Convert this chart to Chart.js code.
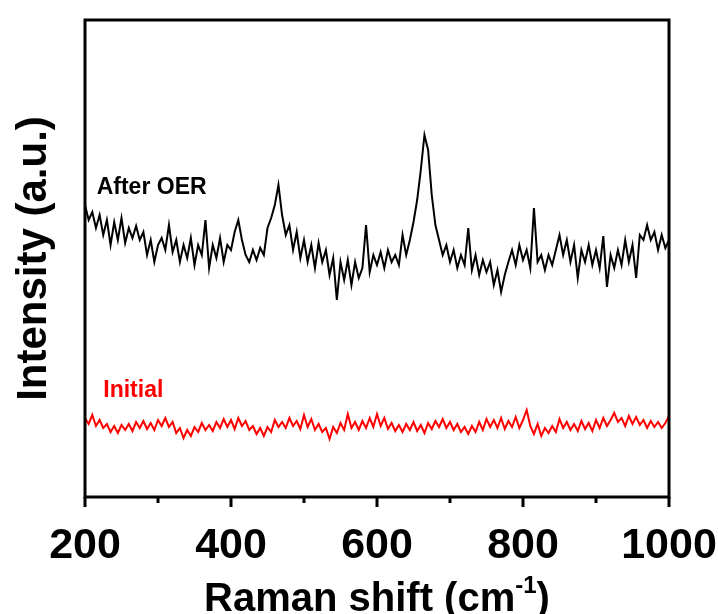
<!DOCTYPE html>
<html>
<head>
<meta charset="utf-8">
<script src="https://cdn.jsdelivr.net/npm/chart.js@4.4.1/dist/chart.umd.min.js"></script>
<style>
  html, body { margin: 0; padding: 0; background: #fff; }
  #wrap { width: 718px; height: 614px; position: relative; }
</style>
</head>
<body>
<div id="wrap"><canvas id="ramanChart"></canvas></div>
<script>
// Raman shift grid (cm-1), 5 cm-1 steps
const ramanShift = [];
for (let x = 200; x <= 1000; x += 5) ramanShift.push(x);

// Intensity (arbitrary units)
const afterOER = [
    292, 277, 285, 269, 282, 262, 277, 252, 275, 257,
    279, 254, 269, 259, 271, 257, 265, 242, 257, 235,
    252, 259, 247, 272, 245, 257, 235, 252, 239, 259,
    232, 252, 242, 277, 229, 252, 239, 259, 235, 252,
    247, 265, 277, 257, 242, 235, 247, 237, 249, 242,
    269, 279, 292, 312, 282, 262, 272, 247, 265, 239,
    257, 235, 252, 229, 254, 235, 247, 222, 239, 197,
    235, 217, 237, 212, 235, 219, 229, 272, 225, 242,
    232, 245, 229, 247, 235, 242, 232, 262, 242, 257,
    275, 297, 327, 362, 347, 302, 272, 257, 242, 252,
    235, 247, 229, 242, 232, 269, 227, 242, 222, 237,
    225, 235, 212, 227, 205, 222, 235, 247, 232, 252,
    237, 247, 229, 289, 235, 242, 227, 242, 232, 247,
    262, 242, 257, 235, 252, 219, 247, 235, 252, 232,
    247, 229, 261, 210, 242, 229, 247, 232, 257, 235,
    252, 219, 262, 257, 272, 257, 265, 247, 262, 249,
    257
];

const initial = [
    79, 73, 82, 71, 77, 69, 73, 65, 71, 64,
    72, 67, 73, 66, 75, 69, 76, 68, 74, 67,
    77, 71, 79, 70, 75, 64, 69, 59, 67, 61,
    70, 65, 74, 67, 72, 66, 75, 69, 78, 70,
    77, 68, 79, 71, 76, 67, 71, 63, 69, 61,
    70, 65, 77, 70, 75, 69, 79, 71, 76, 68,
    82, 70, 78, 67, 73, 65, 69, 58, 70, 64,
    74, 67, 83, 69, 75, 67, 76, 69, 79, 70,
    83, 71, 79, 68, 74, 66, 72, 65, 73, 67,
    75, 66, 72, 64, 74, 68, 76, 70, 78, 69,
    75, 67, 73, 65, 70, 63, 71, 65, 75, 67,
    78, 70, 77, 69, 79, 68, 76, 70, 80, 69,
    77, 87, 71, 63, 73, 61, 69, 64, 71, 65,
    78, 69, 75, 67, 73, 66, 76, 68, 74, 66,
    77, 69, 79, 71, 77, 84, 75, 79, 71, 81,
    73, 80, 72, 77, 69, 76, 70, 75, 69, 74,
    81
];

const majorTicks = [200, 400, 600, 800, 1000];
const minorTicks = [300, 500, 700, 900];
const seriesLabels = ['After OER', 'Initial'];

const FONT = "'Liberation Sans', Arial, sans-serif";

function toPoints(values) {
    return values.map((v, i) => ({ x: ramanShift[i], y: v }));
}

// frame, ticks, curve labels and x title
const decorations = {
    id: 'decorations',
    afterDraw(chart) {
        const ctx = chart.ctx;
        const area = chart.chartArea;
        const xs = chart.scales.x;
        const ys = chart.scales.y;
        ctx.save();
        ctx.strokeStyle = '#000';
        ctx.lineWidth = 3;
        ctx.strokeRect(area.left, area.top, area.right - area.left, area.bottom - area.top);

        ctx.beginPath();
        majorTicks.forEach(v => {
            const px = xs.getPixelForValue(v);
            ctx.moveTo(px, area.bottom);
            ctx.lineTo(px, area.bottom + 10);
        });
        minorTicks.forEach(v => {
            const px = xs.getPixelForValue(v);
            ctx.moveTo(px, area.bottom);
            ctx.lineTo(px, area.bottom + 6);
        });
        ctx.stroke();

        ctx.textAlign = 'left';
        ctx.textBaseline = 'alphabetic';
        ctx.font = 'bold 23px ' + FONT;
        ctx.fillStyle = '#000';
        ctx.fillText(seriesLabels[0], xs.getPixelForValue(216), ys.getPixelForValue(303));
        ctx.fillStyle = '#ff0000';
        ctx.fillText(seriesLabels[1], xs.getPixelForValue(225), ys.getPixelForValue(100));

        // x axis title with superscript
        const main = 'Raman shift (cm';
        const sup = '-1';
        const tail = ')';
        ctx.fillStyle = '#000';
        ctx.font = 'bold 40px ' + FONT;
        const wMain = ctx.measureText(main).width;
        const wTail = ctx.measureText(tail).width;
        ctx.font = 'bold 24px ' + FONT;
        const wSup = ctx.measureText(sup).width;
        const total = wMain + wSup + wTail;
        let x0 = (area.left + area.right) / 2 - total / 2;
        const base = 611;
        ctx.font = 'bold 40px ' + FONT;
        ctx.fillText(main, x0, base);
        ctx.font = 'bold 24px ' + FONT;
        ctx.fillText(sup, x0 + wMain, base - 18);
        ctx.font = 'bold 40px ' + FONT;
        ctx.fillText(tail, x0 + wMain + wSup, base);
        ctx.restore();
    }
};

new Chart(document.getElementById('ramanChart'), {
    type: 'line',
    data: {
        datasets: [{
            label: seriesLabels[0],
            data: toPoints(afterOER),
            borderColor: '#000',
            borderWidth: 2,
            pointRadius: 0,
            tension: 0
        }, {
            label: seriesLabels[1],
            data: toPoints(initial),
            borderColor: '#ff0000',
            borderWidth: 2,
            pointRadius: 0,
            tension: 0
        }]
    },
    options: {
        responsive: true,
        maintainAspectRatio: false,
        animation: false,
        layout: { padding: { top: 20, right: 49, left: 0, bottom: 0 } },
        plugins: {
            legend: { display: false },
            tooltip: { enabled: false }
        },
        scales: {
            x: {
                type: 'linear',
                min: 200,
                max: 1000,
                grid: { display: false },
                border: { display: false },
                ticks: {
                    stepSize: 200,
                    padding: 15,
                    color: '#000',
                    maxRotation: 0,
                    callback: v => String(v),
                    font: { family: FONT, size: 43, weight: 'bold' }
                },
                afterFit(scale) {
                    scale.height = 117;
                    scale.paddingLeft = 0;
                    scale.paddingRight = 0;
                }
            },
            y: {
                min: 0,
                max: 477,
                grid: { display: false },
                border: { display: false },
                ticks: { display: false },
                title: {
                    display: true,
                    text: 'Intensity (a.u.)',
                    color: '#000',
                    padding: { top: 9, bottom: 0 },
                    font: { family: FONT, size: 42, weight: 'bold' }
                },
                afterFit(scale) { scale.width = 85; }
            }
        }
    },
    plugins: [decorations]
});
</script>
</body>
</html>
